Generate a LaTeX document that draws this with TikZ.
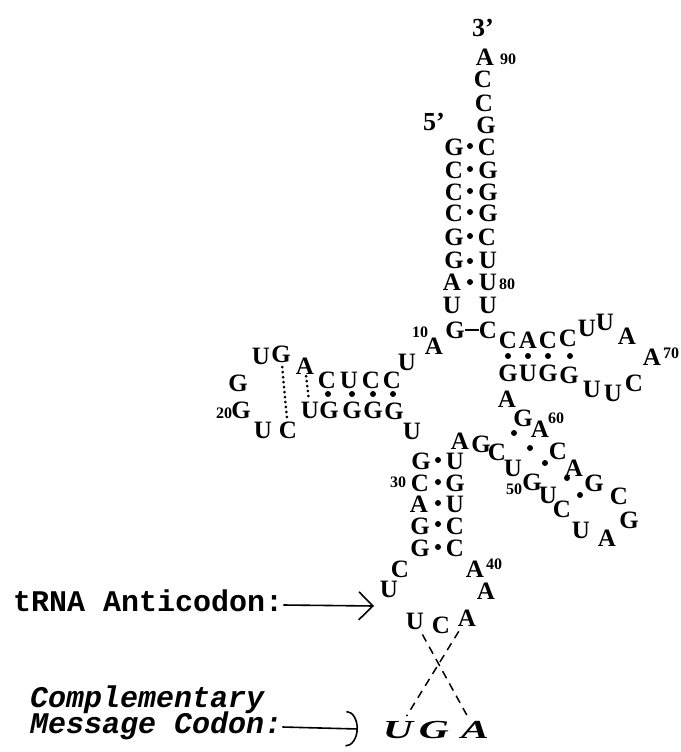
\documentclass[tikz,border=0pt]{standalone}
\usepackage{fontspec}
\setmainfont{Liberation Serif}
\setmonofont{Liberation Mono}
\usepackage{graphicx}
\usepackage{tikz}
\usetikzlibrary{arrows.meta}
\begin{document}
\begin{tikzpicture}[
  x=1pt, y=-1pt,
  nt/.style={inner sep=0pt, text height=16pt, text depth=0pt, font=\fontsize{25}{25}\selectfont\bfseries},
  endlab/.style={inner sep=0pt, font=\fontsize{26}{26}\selectfont\bfseries},
  idx/.style={inner sep=0pt, text height=11pt, text depth=0pt, font=\fontsize{16}{16}\selectfont\bfseries},
  codon/.style={inner sep=0pt, font=\fontsize{26}{26}\selectfont\bfseries\itshape},
  lab/.style={inner sep=0pt, anchor=west, text height=18pt, text depth=5pt, font=\fontsize{30}{30}\selectfont\ttfamily\bfseries},
  pairdash/.style={line width=2pt},
  tert/.style={line width=3pt, line cap=round, dash pattern=on 0pt off 5pt},
  cross/.style={line width=1.5pt, dash pattern=on 8pt off 6pt, shorten <=6pt, shorten >=6pt},
  dot/.style={fill=black}
]
\useasboundingbox (0,0) rectangle (680,752);

% acceptor stem
\node[endlab] (a3p) at (483,28) {3'};
\node[nt] (aA90) at (485,58) {A};
\node[idx] (i90) at (508,59) {90};
\node[nt] (aC89) at (483,80) {C};
\node[nt] (aC88) at (484,103) {C};
\node[nt] (aG87) at (486,125) {G};
\node[endlab] (a5p) at (434,122) {5'};

\node[nt] (aL1) at (454,147) {G}; \node[nt] (aR1) at (487,147) {C};
\node[nt] (aL2) at (454,170) {C}; \node[nt] (aR2) at (488,170) {G};
\node[nt] (aL3) at (454,192) {C}; \node[nt] (aR3) at (488,192) {G};
\node[nt] (aL4) at (454,213) {C}; \node[nt] (aR4) at (488,213) {G};
\node[nt] (aL5) at (454,237) {G}; \node[nt] (aR5) at (487,237) {C};
\node[nt] (aL6) at (454,260) {G}; \node[nt] (aR6) at (488,260) {U};
\node[nt] (aL7) at (452,282) {A}; \node[nt] (aR7) at (488,282) {U};
\node[idx] (i80) at (507,284) {80};
\node[nt] (aL8) at (452,305) {U}; \node[nt] (aR8) at (488,305) {U};
\node[nt] (aL9) at (455,330) {G}; \node[nt] (aR9) at (488,330) {C};

\fill[dot] (470,146) circle (3); \fill[dot] (470,169) circle (3);
\fill[dot] (470,191) circle (3); \fill[dot] (470,212) circle (3);
\fill[dot] (470,236) circle (3); \fill[dot] (470,261) circle (3);
\fill[dot] (470,282) circle (3);
\draw[pairdash] (aL9) -- (aR9);

% D arm
\node[idx] (i10) at (420,332) {10};
\node[nt] (dA10) at (434,346) {A};
\node[nt] (dU1) at (407,362) {U};
\node[nt] (dC1) at (392,380) {C};
\node[nt] (dC2) at (371,380) {C};
\node[nt] (dU2) at (349,380) {U};
\node[nt] (dC3) at (327,380) {C};
\node[nt] (dA1) at (305,366) {A};
\node[nt] (dG1) at (281,354) {G};
\node[nt] (dU3) at (261,356) {U};
\node[nt] (dG2) at (238,383) {G};
\node[nt] (dG20) at (241,410) {G};
\node[idx] (i20) at (224,413) {20};
\node[nt] (dU4) at (263,430) {U};
\node[nt] (dC4) at (288,430) {C};
\node[nt] (dU5) at (310,410) {U};
\node[nt] (dG3) at (329,410) {G};
\node[nt] (dG4) at (352,410) {G};
\node[nt] (dG5) at (373,410) {G};
\node[nt] (dG6) at (394,411) {G};
\node[nt] (dU6) at (412,431) {U};

\fill[dot] (328,394) circle (3); \fill[dot] (352,394) circle (3);
\fill[dot] (373,394) circle (3); \fill[dot] (393,394) circle (3);
\draw[tert, shorten <=5pt, shorten >=4pt] (dG1) -- (dC4);
\draw[tert, shorten <=2pt, shorten >=2pt] (dA1) -- (dU5);

% T arm
\node[nt] (tC1) at (508,340) {C};
\node[nt] (tA1) at (528,340) {A};
\node[nt] (tC2) at (548,340) {C};
\node[nt] (tC3) at (568,338) {C};
\node[nt] (tU1) at (587,328) {U};
\node[nt] (tU2) at (605,322) {U};
\node[nt] (tA2) at (627,336) {A};
\node[nt] (tA70) at (652,357) {A};
\node[idx] (i70) at (671,353) {70};
\node[nt] (tC4) at (634,383) {C};
\node[nt] (tU3) at (613,393) {U};
\node[nt] (tU4) at (592,389) {U};
\node[nt] (tG1) at (569,375) {G};
\node[nt] (tG2) at (548,373) {G};
\node[nt] (tU5) at (528,373) {U};
\node[nt] (tG3) at (508,373) {G};
\node[nt] (tA3) at (507,399) {A};
\node[nt] (tG4) at (523,418) {G};

\fill[dot] (508,356) circle (3); \fill[dot] (528,356) circle (3);
\fill[dot] (548,356) circle (3); \fill[dot] (570,356) circle (3);

% second hairpin
\node[nt] (vA60) at (540,429) {A};
\node[idx] (i60) at (556,418) {60};
\node[nt] (vC1) at (558,451) {C};
\node[nt] (vA1) at (574,468) {A};
\node[nt] (vG1) at (594,483) {G};
\node[nt] (vC2) at (619,496) {C};
\node[nt] (vG2) at (629,520) {G};
\node[nt] (vA2) at (607,538) {A};
\node[nt] (vU1) at (581,530) {U};
\node[nt] (vC3) at (562,509) {C};
\node[nt] (vU2) at (548,495) {U};
\node[nt] (vG50) at (532,482) {G};
\node[idx] (i50) at (514,489) {50};
\node[nt] (vU3) at (513,468) {U};
\node[nt] (vC4) at (497,452) {C};
\node[nt] (vG3) at (481,444) {G};
\node[nt] (vA3) at (460,441) {A};

\fill[dot] (514,433) circle (3); \fill[dot] (530,448) circle (3);
\fill[dot] (545,463) circle (3); \fill[dot] (567,478) circle (3);
\fill[dot] (580,495) circle (3);

% anticodon stem and loop
\node[nt] (cL1) at (421,461) {G}; \node[nt] (cR1) at (455,461) {U};
\node[nt] (cL2) at (420,483) {C}; \node[nt] (cR2) at (455,483) {G};
\node[idx] (i30) at (398,482) {30};
\node[nt] (cL3) at (419,504) {A}; \node[nt] (cR3) at (455,504) {U};
\node[nt] (cL4) at (420,526) {G}; \node[nt] (cR4) at (455,526) {C};
\node[nt] (cL5) at (420,548) {G}; \node[nt] (cR5) at (455,548) {C};

\fill[dot] (438,460) circle (3); \fill[dot] (438,482) circle (3);
\fill[dot] (438,503) circle (3); \fill[dot] (438,524) circle (3);
\fill[dot] (438,547) circle (3);

\node[nt] (cC1) at (400,569) {C};
\node[nt] (cU1) at (389,589) {U};
\node[nt] (cA40) at (475,569) {A};
\node[idx] (i40) at (494,564) {40};
\node[nt] (cA1) at (486,591) {A};

\node[nt] (acU) at (415,621) {U};
\node[nt] (acC) at (441,625) {C};
\node[nt] (acA) at (467,618) {A};

% message codon
\node[codon] (coU) at (398,730) {\scalebox{1.6}[1]{U}};
\node[codon] (coG) at (434,730) {\scalebox{1.6}[1]{G}};
\node[codon] (coA) at (475,730) {\scalebox{1.6}[1]{A}};

\draw[cross] (acU) -- (coA);
\draw[cross] (acA) -- (coU);

% labels
\node[lab] (lblA) at (13,605) {tRNA Anticodon:};
\coordinate (acTip) at (374,606);
\draw[line width=1.6pt, -{Straight Barb[length=14pt,width=28pt]}] (lblA.east) -- (acTip);

\node[lab, font=\fontsize{30}{30}\selectfont\ttfamily\bfseries\itshape] (lblC1) at (30,701) {Complementary};
\node[lab, font=\fontsize{30}{30}\selectfont\ttfamily\bfseries\itshape] (lblC2) at (30,727) {Message Codon:};
\coordinate (coTip) at (358,729);
\draw[line width=1.6pt, -{Arc Barb[length=12pt,width=36pt]}] (lblC2.east) -- (coTip);

\end{tikzpicture}
\end{document}
